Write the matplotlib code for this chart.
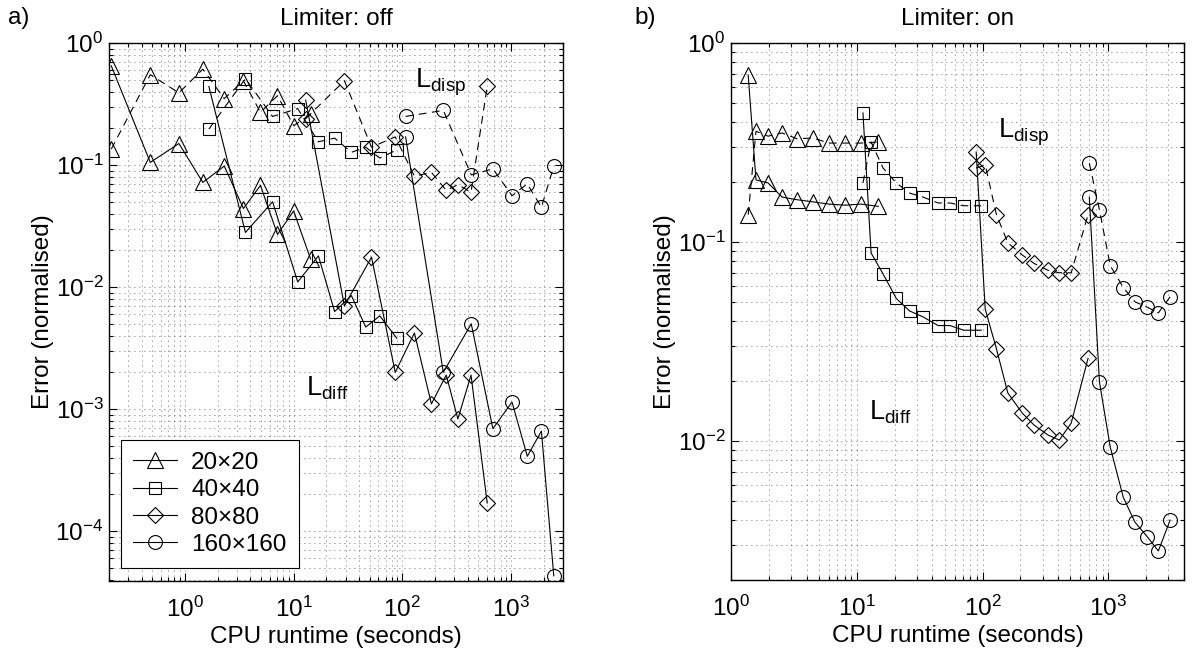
"""
plot.py

Error vs CPU runtime for four grid resolutions, limiter off / on.
Solid lines = L_diff error, dashed lines = L_disp error.
"""

import numpy as np
import matplotlib
matplotlib.use("Agg")
import matplotlib.pyplot as plt
from matplotlib.ticker import LogLocator, NullFormatter

plt.rcParams["font.family"] = ["Liberation Sans", "DejaVu Sans"]
plt.rcParams["mathtext.fontset"] = "custom"
plt.rcParams["mathtext.rm"] = "Liberation Sans"
plt.rcParams["mathtext.it"] = "Liberation Sans:italic"
plt.rcParams["mathtext.bf"] = "Liberation Sans:bold"

FS = 17.5

GRID_LABELS = ["20\u00d720", "40\u00d740", "80\u00d780", "160\u00d7160"]
MARKERS     = ["^", "s", "D", "o"]
MSIZES      = [12, 9, 8, 10]

# ---------------------------------------------------------------------
# a) Limiter off  (read off the figure)
# ---------------------------------------------------------------------
t20_off    = [0.21, 0.48, 0.88, 1.46, 2.3, 3.45, 4.95, 7.1, 10.0, 14.3]
diff20_off = [0.65, 0.105, 0.15, 0.072, 0.098, 0.044, 0.068, 0.027, 0.042, 0.017]
disp20_off = [0.135, 0.55, 0.39, 0.61, 0.35, 0.49, 0.27, 0.37, 0.21, 0.26]

t40_off    = [1.66, 3.6, 6.4, 10.9, 16.9, 23.8, 34, 46, 62, 89]
diff40_off = [0.44, 0.028, 0.05, 0.011, 0.018, 0.0063, 0.0085, 0.0047, 0.0058, 0.0038]
disp40_off = [0.197, 0.51, 0.25, 0.29, 0.155, 0.166, 0.127, 0.14, 0.114, 0.133]

t80_off    = [12.9, 29.3, 52, 86, 129, 185, 253, 324, 428, 603]
diff80_off = [0.34, 0.0070, 0.0176, 0.0020, 0.0042, 0.0011, 0.0019, 0.00083, 0.0019, 0.00017]
disp80_off = [0.24, 0.49, 0.14, 0.17, 0.081, 0.087, 0.062, 0.069, 0.060, 0.44]

t160_off    = [107, 238, 430, 680, 1020, 1410, 1900, 2470]
diff160_off = [0.17, 0.0020, 0.0050, 0.00069, 0.00114, 0.00041, 0.00066, 4.3e-5]
disp160_off = [0.25, 0.28, 0.083, 0.093, 0.056, 0.070, 0.045, 0.098]

# ---------------------------------------------------------------------
# b) Limiter on
# ---------------------------------------------------------------------
t20_on    = [1.37, 1.58, 1.97, 2.55, 3.35, 4.49, 6.0, 8.1, 10.8, 14.8]
diff20_on = [0.69, 0.205, 0.198, 0.168, 0.163, 0.159, 0.155, 0.153, 0.155, 0.151]
disp20_on = [0.137, 0.36, 0.34, 0.353, 0.33, 0.333, 0.314, 0.314, 0.314, 0.318]

t40_on    = [11.2, 13.0, 16.2, 20.6, 26.3, 33.7, 44.3, 55, 71, 97.6]
diff40_on = [0.445, 0.088, 0.069, 0.052, 0.045, 0.042, 0.038, 0.038, 0.036, 0.036]
disp40_on = [0.198, 0.318, 0.235, 0.198, 0.176, 0.168, 0.157, 0.157, 0.152, 0.152]

t80_on    = [89, 105, 129, 159, 207, 257, 332, 408, 507, 690]
diff80_on = [0.283, 0.046, 0.029, 0.0174, 0.0138, 0.012, 0.0107, 0.0101, 0.0123, 0.026]
disp80_on = [0.235, 0.244, 0.137, 0.099, 0.086, 0.078, 0.072, 0.070, 0.070, 0.137]

t160_on    = [706, 850, 1036, 1316, 1630, 2040, 2500, 3100]
diff160_on = [0.168, 0.0198, 0.0093, 0.0052, 0.0039, 0.0033, 0.0028, 0.0040]
disp160_on = [0.249, 0.145, 0.076, 0.059, 0.050, 0.047, 0.044, 0.053]


def style_axes(ax, xlim, ylim):
    ax.set_xscale("log")
    ax.set_yscale("log")
    ax.set_xlim(*xlim)
    ax.set_ylim(*ylim)
    for axis in (ax.xaxis, ax.yaxis):
        axis.set_major_locator(LogLocator(base=10, numticks=20))
        axis.set_minor_locator(LogLocator(base=10, subs=np.arange(2, 10), numticks=20))
        axis.set_minor_formatter(NullFormatter())
    ax.grid(True, which="both", color="k", lw=0.6, ls=(0, (1, 5)), alpha=0.75)
    ax.tick_params(which="both", direction="in", top=True, right=True,
                   labelsize=FS, width=0.8)
    ax.tick_params(which="major", length=6)
    ax.tick_params(which="minor", length=3)
    ax.tick_params(axis="x", pad=11)
    ax.tick_params(axis="y", pad=4)
    for sp in ax.spines.values():
        sp.set_linewidth(1.0)
    ax.set_xlabel("CPU runtime (seconds)", fontsize=FS, labelpad=3)
    ax.set_ylabel("Error (normalised)", fontsize=FS, labelpad=1)


def plot_panel(ax, times, diffs, disps):
    handles = []
    for t, dif, dis, mk, ms, lab in zip(times, diffs, disps, MARKERS, MSIZES, GRID_LABELS):
        h, = ax.plot(t, dif, color="k", lw=0.8, marker=mk, ms=ms, mfc="none",
                     mec="k", mew=0.8, label=lab)
        ax.plot(t, dis, color="k", lw=0.8, ls=(0, (7, 5)), marker=mk, ms=ms,
                mfc="none", mec="k", mew=0.8)
        handles.append(h)
    return handles


fig = plt.figure(figsize=(11.96, 6.57), dpi=100)
ax_a = fig.add_axes([0.0911, 0.1157, 0.3796, 0.8189])
ax_b = fig.add_axes([0.6112, 0.1172, 0.3788, 0.8174])

handles = plot_panel(ax_a,
                     [t20_off, t40_off, t80_off, t160_off],
                     [diff20_off, diff40_off, diff80_off, diff160_off],
                     [disp20_off, disp40_off, disp80_off, disp160_off])
style_axes(ax_a, (0.2, 3000), (3.9e-5, 1))
ax_a.set_title("Limiter: off", fontsize=FS, pad=13)
ax_a.text(132, 0.43, r"L$_{\mathrm{disp}}$", fontsize=FS + 2)
ax_a.text(12.9, 0.0013, r"L$_{\mathrm{diff}}$", fontsize=FS + 2)

leg = ax_a.legend(handles=handles, loc="lower left", bbox_to_anchor=(0.026, 0.024),
                  borderaxespad=0, fontsize=FS, frameon=True, fancybox=False,
                  edgecolor="k", framealpha=1, handlelength=1.8, handletextpad=0.6,
                  labelspacing=0.22, borderpad=0.5)
leg.get_frame().set_linewidth(0.8)

plot_panel(ax_b,
           [t20_on, t40_on, t80_on, t160_on],
           [diff20_on, diff40_on, diff80_on, diff160_on],
           [disp20_on, disp40_on, disp80_on, disp160_on])
style_axes(ax_b, (1, 4000), (0.002, 1))
ax_b.set_title("Limiter: on", fontsize=FS, pad=13)
ax_b.text(133, 0.335, r"L$_{\mathrm{disp}}$", fontsize=FS + 2)
ax_b.text(12.5, 0.0128, r"L$_{\mathrm{diff}}$", fontsize=FS + 2)

fig.text(8 / 1196, 1 - 18 / 657, "a)", fontsize=FS, va="center")
fig.text(634 / 1196, 1 - 18 / 657, "b)", fontsize=FS, va="center")

fig.savefig("out.png", dpi=100)
plt.close(fig)
